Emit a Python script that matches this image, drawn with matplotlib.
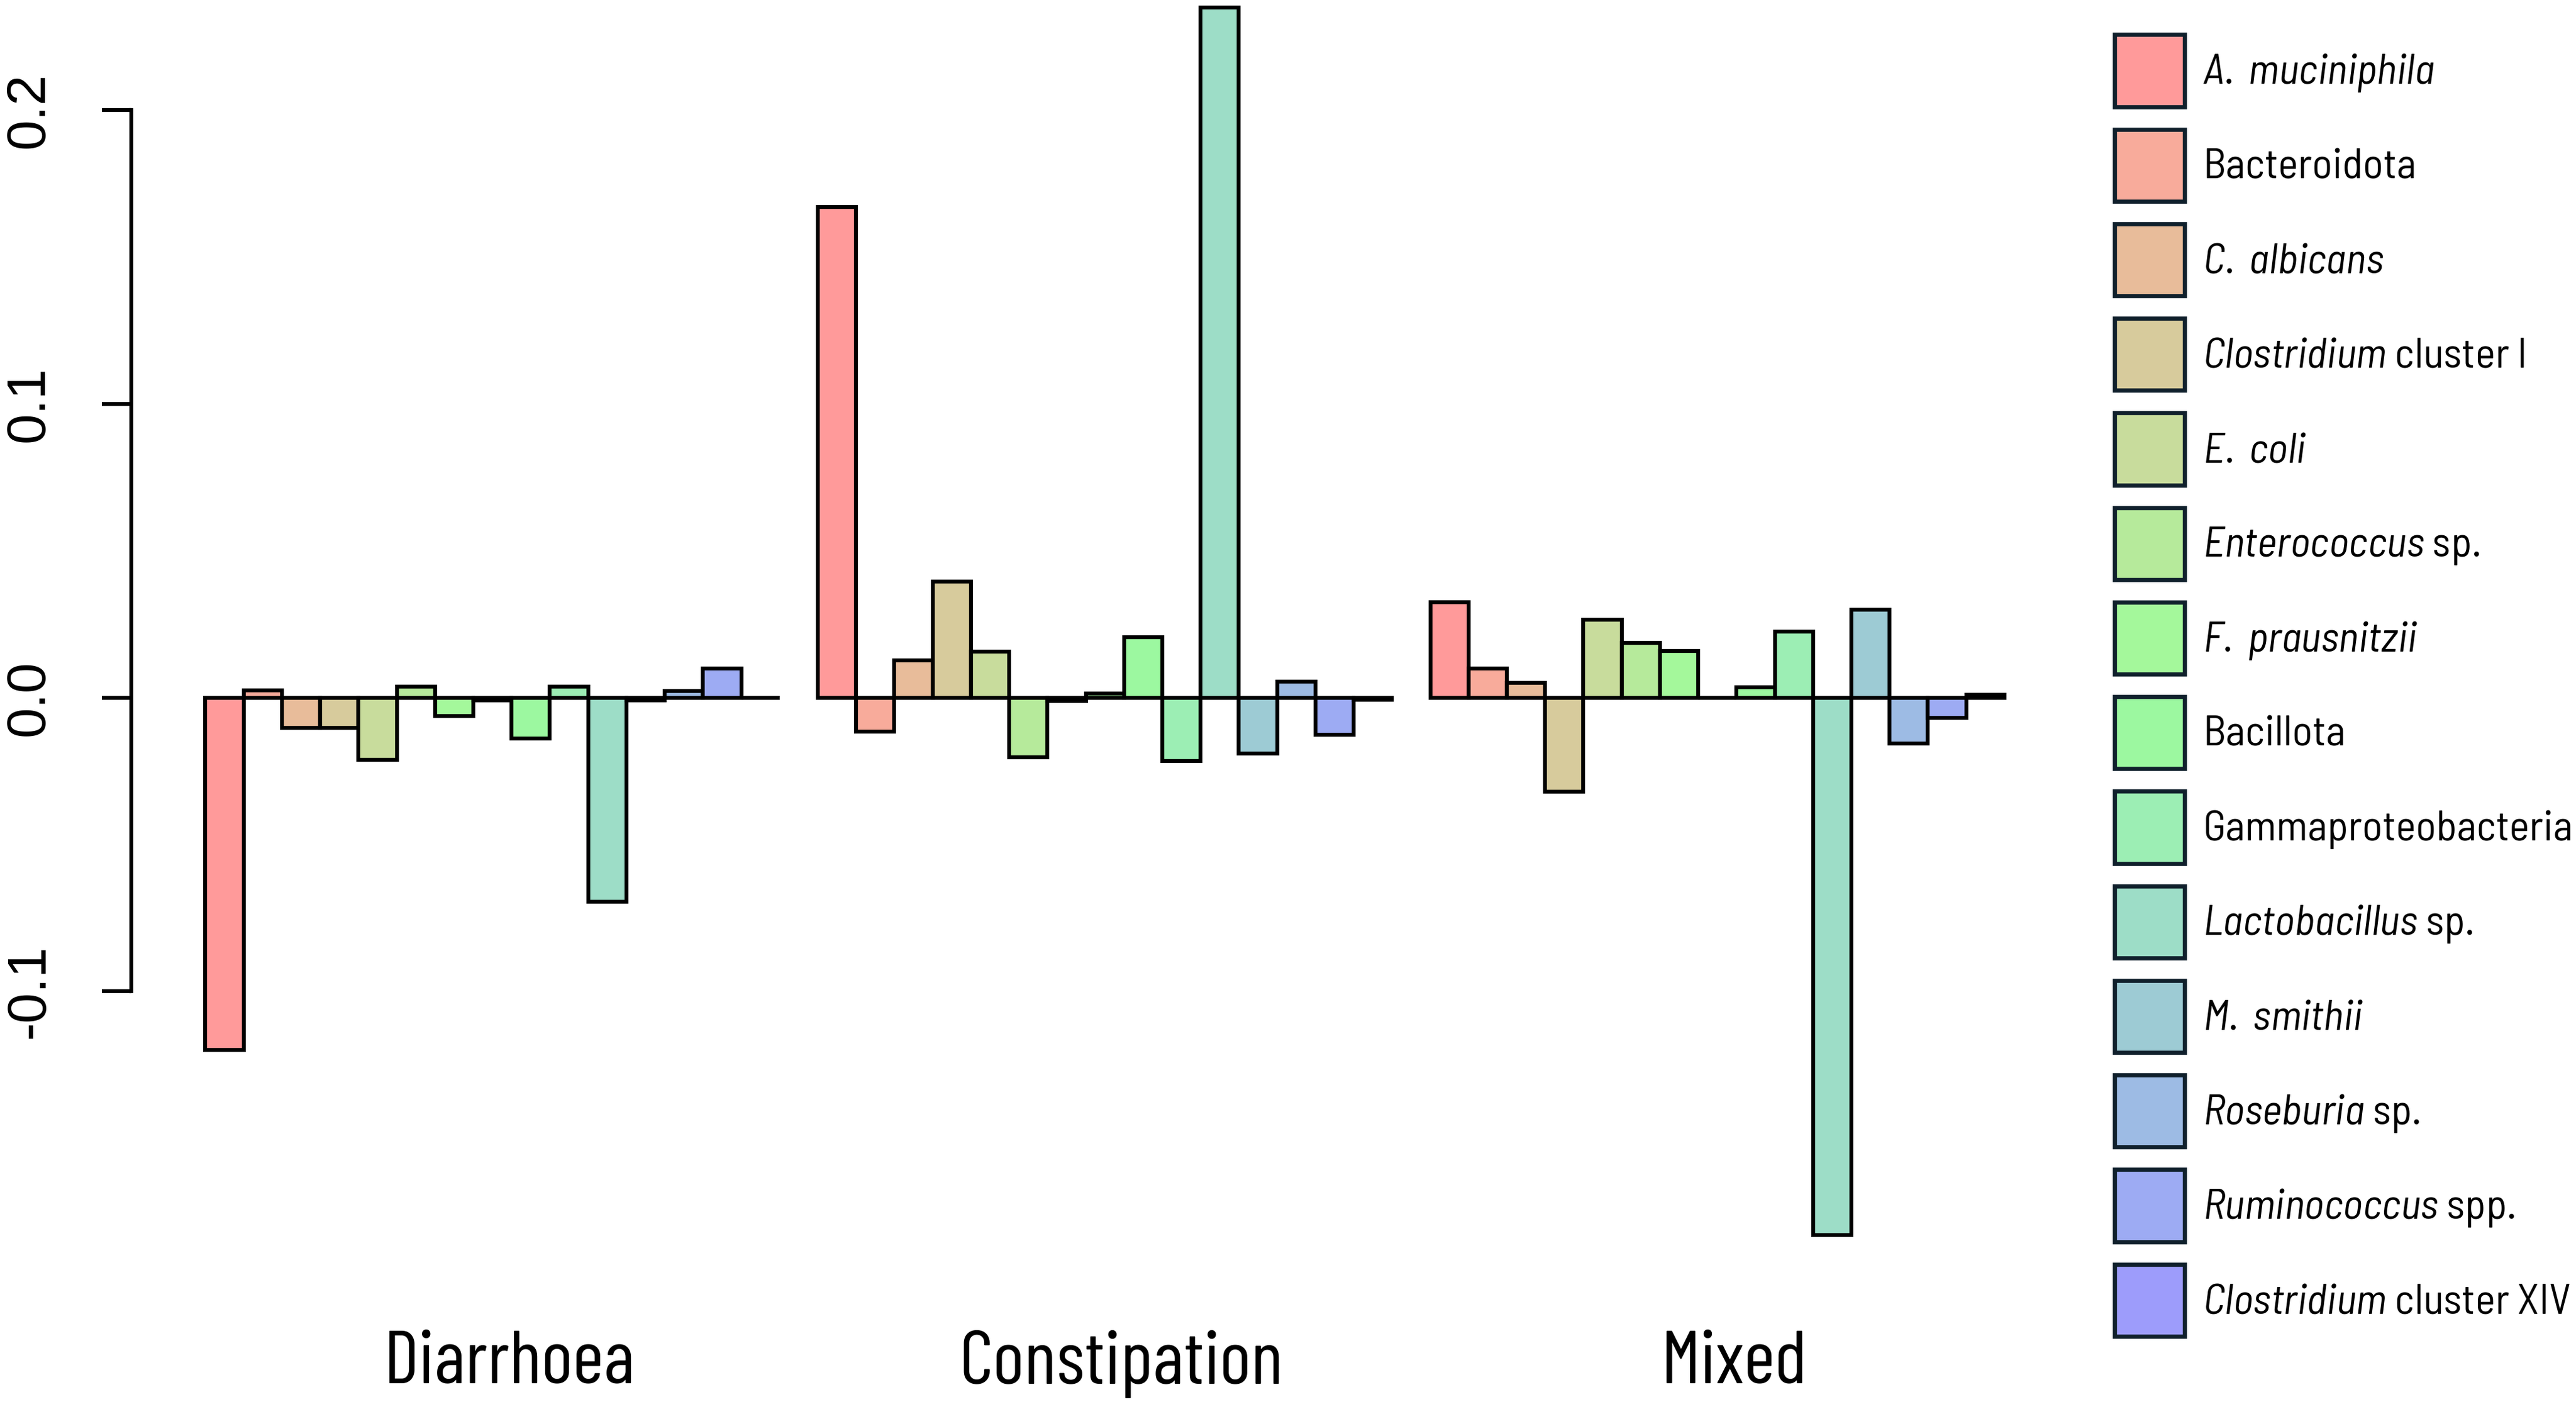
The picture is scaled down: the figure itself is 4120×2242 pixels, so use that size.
import matplotlib
matplotlib.use("Agg")
import matplotlib.pyplot as plt
import matplotlib.transforms as mtransforms
from matplotlib.patches import Patch
from matplotlib import font_manager
import numpy as np

# categories (slot 8 is an unlabelled taxon that has no legend entry)
taxa = ["A. muciniphila", "Bacteroidota", "C. albicans", "Clostridium cluster I",
        "E. coli", "Enterococcus sp.", "F. prausnitzii", "", "Bacillota",
        "Gammaproteobacteria", "Lactobacillus sp.", "M. smithii", "Roseburia sp.",
        "Ruminococcus spp.", "Clostridium cluster XIV"]
legend_labels = [r"$\it{A.}$ $\it{muciniphila}$", "Bacteroidota", r"$\it{C.}$ $\it{albicans}$",
                 r"$\it{Clostridium}$ cluster I", r"$\it{E.}$ $\it{coli}$",
                 r"$\it{Enterococcus}$ sp.", r"$\it{F.}$ $\it{prausnitzii}$", None,
                 "Bacillota", "Gammaproteobacteria", r"$\it{Lactobacillus}$ sp.",
                 r"$\it{M.}$ $\it{smithii}$", r"$\it{Roseburia}$ sp.",
                 r"$\it{Ruminococcus}$ spp.", r"$\it{Clostridium}$ cluster XIV"]
colors = ["#FF9A9A", "#F8AB9B", "#E8BC9A", "#D7CB9C", "#C8DC9C", "#B6EA9B",
          "#A4F89B", "#9FF89D", "#9CF8A0", "#9CEEB4", "#9DDDC7", "#9DCBD4",
          "#9DBBE4", "#9DABF3", "#9D9CFB"]

groups = ["Diarrhoea", "Constipation", "Mixed"]
diarrhoea = [-0.120, 0.0026, -0.0102, -0.0102, -0.0212, 0.0038, -0.0062, -0.0009,
             -0.0138, 0.0038, -0.0695, -0.0009, 0.0022, 0.0099, 0.0]
constipation = [0.167, -0.0115, 0.0128, 0.0395, 0.0156, -0.0203, -0.0012, 0.0014,
                0.0205, -0.0216, 0.235, -0.0189, 0.0055, -0.0126, -0.0008]
mixed = [0.0325, 0.0100, 0.0050, -0.0320, 0.0265, 0.0187, 0.0160, 0.0, 0.0036,
         0.0225, -0.183, 0.0300, -0.0157, -0.0068, 0.0010]

yticks = [-0.1, 0.0, 0.1, 0.2]
ytick_labels = ["-0.1", "0.0", "0.1", "0.2"]

available = {f.name for f in font_manager.fontManager.ttflist}
def pick(*names):
    for n in names:
        if n in available:
            return n
    return "DejaVu Sans"

group_font = pick("Barlow Condensed", "Barlow Semi Condensed", "Roboto")
legend_font = pick("Barlow Semi Condensed", "Barlow", "Roboto")
tick_font = pick("Liberation Sans", "Arimo", "DejaVu Sans")

plt.rcParams["axes.unicode_minus"] = False
plt.rcParams["mathtext.fontset"] = "custom"
plt.rcParams["mathtext.rm"] = legend_font
plt.rcParams["mathtext.it"] = legend_font + ":italic"

W, H = 4120, 2242
fig = plt.figure(figsize=(W / 300, H / 300), dpi=300)
# reference measured on a 1568 px wide copy
s = 1568.0
ax = fig.add_axes([80 / s, 0, (1240 - 80) / s, 1])

slot = 23.3
x0 = -(125 - 80) / slot
ax.set_xlim(x0, x0 + (1240 - 80) / slot)
ax.set_ylim(-(852 - 424) / 1785.0, 424 / 1785.0)

data = [diarrhoea, constipation, mixed]
n = len(taxa)
off = mtransforms.offset_copy(ax.transData, fig=fig, x=6.3, y=0, units="points")
label_tr = mtransforms.blended_transform_factory(off, ax.transAxes)
for g, vals in enumerate(data):
    xs = np.arange(n) + g * (n + 1) + 0.5
    ax.bar(xs, vals, width=1.0, color=colors, edgecolor="black", linewidth=1.5,
           zorder=2)
    ax.text(g * (n + 1) + n / 2, 1 - 829 / 852, groups[g], transform=label_tr,
            ha="center", va="center", fontsize=29, family=group_font)

for sp in ["top", "right", "bottom"]:
    ax.spines[sp].set_visible(False)
ax.spines["left"].set_linewidth(1.5)
ax.spines["left"].set_bounds(-0.1, 0.2)
ax.set_xticks([])
ax.set_yticks(yticks)
ax.set_yticklabels(ytick_labels, rotation=90, va="center", family=tick_font,
                   fontsize=21)
ax.tick_params(axis="y", length=11.3, width=1.5, pad=18)

handles = [Patch(facecolor=c, edgecolor="#10202c", linewidth=1.6)
           for c, l in zip(colors, legend_labels) if l is not None]
labels = [l for l in legend_labels if l is not None]
fs = 16.3
fig.legend(handles, labels, loc="upper left", bbox_to_anchor=(1287 / s, 1 - 21 / 852),
           frameon=False, prop={"family": legend_font, "size": fs},
           handlelength=27 / fs, handleheight=(27.7 / fs - 0.245) / 0.65,
           labelspacing=8.6 / fs, handletextpad=7 / fs, borderpad=0, borderaxespad=0)

fig.savefig("out.png", dpi=300, facecolor="white")
